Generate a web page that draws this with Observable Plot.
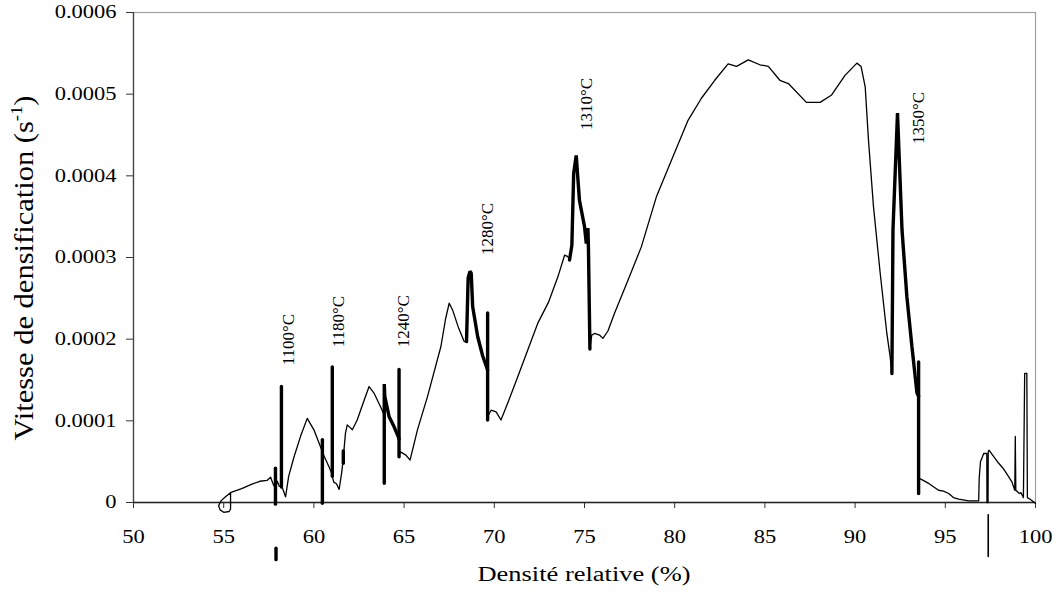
<!DOCTYPE html>
<html>
<head>
<meta charset="utf-8">
<script src="https://cdn.jsdelivr.net/npm/d3@7"></script>
<script src="https://cdn.jsdelivr.net/npm/@observablehq/plot@0.6"></script>
<style>
  body { margin: 0; background: #fff; }
  #chart svg { display: block; }
</style>
</head>
<body>
<div id="chart"></div>
<script>
// ---- Axis ticks ----
const xTicks = [50, 55, 60, 65, 70, 75, 80, 85, 90, 95, 100];
const yTicks = [0, 0.0001, 0.0002, 0.0003, 0.0004, 0.0005, 0.0006];

// ---- Curve pieces: [relative density %, rate in units of 1e-4 s^-1] ----
// thin (continuous heating) pieces
const thinA = [[55.38,0.12],[55.1,0.07],[54.85,0.02],[54.72,-0.04],[54.8,-0.09],[55.0,-0.12],[55.3,-0.11],[55.38,-0.08],[55.38,0.12],[55.6,0.14],[56.0,0.17],[56.5,0.22],[57.0,0.26],[57.4,0.27],[57.6,0.31],[57.75,0.22],[57.87,0.18]];
const thinB = [[57.87,0.18],[57.97,0.26],[58.08,0.2],[58.2,0.19]];
const thinC = [[58.22,0.2],[58.43,0.07],[58.6,0.32],[58.9,0.56],[59.26,0.81],[59.63,1.03],[60.0,0.89],[60.37,0.68],[60.47,0.62],[60.6,0.55],[60.83,0.44],[61.02,0.34]];
const thinD = [[61.02,0.32],[61.1,0.25],[61.25,0.23],[61.4,0.16],[61.55,0.38],[61.63,0.55],[61.75,0.85],[61.85,0.95],[62.0,0.92],[62.13,0.89],[62.4,1.01],[62.78,1.25],[63.06,1.42],[63.33,1.34],[63.7,1.17],[63.9,1.07]];
const thinE = [[64.72,0.58],[64.8,0.62],[65.1,0.58],[65.33,0.52],[65.74,0.89],[66.3,1.30],[67.04,1.91],[67.3,2.25],[67.5,2.44],[67.7,2.35],[68.0,2.15],[68.33,1.97],[68.46,1.97]];
const thinF = [[69.63,1.05],[69.82,1.13],[70.1,1.11],[70.37,1.01],[70.8,1.25],[71.3,1.54],[72.4,2.19],[73.0,2.45],[73.52,2.76],[73.9,3.03],[74.08,3.01],[74.17,2.97]];
const thinG = [[75.3,1.88],[75.4,2.05],[75.56,2.07],[75.83,2.05],[76.02,2.01],[76.3,2.1],[76.67,2.32],[77.41,2.72],[78.15,3.13],[78.98,3.74],[79.82,4.19],[80.74,4.68],[81.48,4.95],[82.22,5.17],[82.96,5.37],[83.43,5.34],[84.08,5.42],[84.72,5.36],[85.19,5.34],[85.83,5.17],[86.3,5.13],[87.3,4.90],[88.06,4.90],[88.7,4.99],[89.44,5.23],[90.1,5.38],[90.33,5.34],[90.56,5.09],[90.74,4.44],[91.02,3.62],[91.39,2.81],[91.76,2.07],[91.94,1.79],[92.04,1.58]];
const thinH = [[93.52,0.3],[93.7,0.28],[94.07,0.235],[94.3,0.2],[94.63,0.15],[94.9,0.14],[95.19,0.11],[95.45,0.06],[95.74,0.04],[96.3,0.02],[96.85,0.02],[96.88,0.3],[96.95,0.5],[97.13,0.60],[97.3,0.60],[97.31,0.0],[97.37,0.0],[97.38,0.62],[97.42,0.64],[97.96,0.48],[98.2,0.42],[98.5,0.32],[98.7,0.25],[98.85,0.15],[98.88,0.81],[98.91,0.15],[99.1,0.11],[99.2,0.12],[99.33,0.06],[99.40,1.58],[99.52,1.58],[99.55,0.06],[99.7,0.04],[100.0,-0.01]];
const belowThin = [[97.38,-0.15],[97.38,-0.66]];

// thick (isothermal hold) pieces
const thickK1 = [[57.87,-0.02],[57.87,0.42]];
const thickK2 = [[58.2,0.19],[58.2,1.42]];
const thickK3 = [[60.47,0.77],[60.47,-0.01]];
const thickK4 = [[61.02,0.32],[61.02,1.66]];
const thickK5 = [[61.63,0.48],[61.63,0.63]];
const thickK6 = [[63.9,0.235],[63.9,1.45],[63.93,1.30],[64.17,1.05],[64.44,0.93],[64.67,0.81],[64.72,0.78]];
const thickK7 = [[64.72,0.56],[64.72,1.63]];
const thickK8 = [[68.46,1.97],[68.55,2.75],[68.65,2.83],[68.72,2.81],[68.8,2.40],[69.08,2.03],[69.35,1.80],[69.63,1.62]];
const thickK9 = [[69.63,2.32],[69.63,1.01]];
const thickK10 = [[74.17,2.97],[74.3,3.15],[74.4,4.03],[74.54,4.25],[74.72,3.70],[75.0,3.38],[75.1,3.17],[75.19,3.36],[75.22,3.1],[75.3,1.88]];
const thickK11 = [[92.04,1.58],[92.1,3.34],[92.35,4.77],[92.6,3.34],[92.87,2.52],[93.15,1.91],[93.43,1.34],[93.52,1.30]];
const thickK12 = [[93.52,1.72],[93.52,0.11]];
const belowThick = [[57.9,-0.56],[57.9,-0.70]];

// ---- Temperature labels ----
const tempLabels = ["1100°C", "1180°C", "1240°C", "1280°C", "1310°C", "1350°C"];
const tempX = [58.6, 61.35, 64.95, 69.6, 75.1, 93.5];
const tempY = [1.68, 1.90, 1.90, 3.03, 4.56, 4.39];

const UNIT = 1e-4;
function toRows(pieces) {
  const rows = [];
  pieces.forEach((p, i) => p.forEach(([x, v]) => rows.push({seg: i, x, y: v * UNIT})));
  return rows;
}
const thinRows = toRows([thinA, thinB, thinC, thinD, thinE, thinF, thinG, thinH]);
const thinBelowRows = toRows([belowThin]);
const thickRows = toRows([thickK1, thickK2, thickK3, thickK4, thickK5, thickK6, thickK7, thickK8, thickK9, thickK10, thickK11, thickK12, belowThick]);
const labelRows = tempLabels.map((t, i) => ({text: t, x: tempX[i], y: tempY[i] * UNIT}));

const plot = Plot.plot({
  width: 1059,
  height: 595,
  marginLeft: 133,
  marginRight: 24,
  marginTop: 12,
  marginBottom: 93,
  style: {fontFamily: "'Liberation Serif', 'Times New Roman', serif", fontSize: "18px", background: "#fff", color: "#000"},
  x: {domain: [50, 100]},
  y: {domain: [0, 0.0006]},
  marks: [
    Plot.frame({stroke: "#a0a0a0", strokeWidth: 1.2}),
    Plot.axisX({ticks: xTicks, tickSize: 6, tickPadding: 22, label: null, fontSize: 18, stroke: "#333", tickFormat: d => String(d)}),
    Plot.axisY({ticks: yTicks, tickSize: 7, tickPadding: 10, label: null, fontSize: 18, stroke: "#333", tickFormat: d => d === 0 ? "0" : d.toFixed(4)}),
    Plot.ruleY([0], {stroke: "#222", strokeWidth: 1.3}),
    Plot.ruleX([50], {stroke: "#444", strokeWidth: 1.3}),
    Plot.line(thinRows, {x: "x", y: "y", z: "seg", stroke: "#000", strokeWidth: 1.3, curve: "linear"}),
    Plot.line(thinBelowRows, {x: "x", y: "y", z: "seg", stroke: "#000", strokeWidth: 1.6}),
    Plot.line(thickRows, {x: "x", y: "y", z: "seg", stroke: "#000", strokeWidth: 3.4, curve: "linear", strokeLinejoin: "miter"}),
    Plot.text(labelRows, {x: "x", y: "y", text: "text", rotate: -90, textAnchor: "start", lineAnchor: "middle", fontSize: 17, fill: "#000"})
  ]
});

document.getElementById("chart").appendChild(plot);

// widen tick labels horizontally to match the stretched look of the original
const svg = d3.select(plot);
svg.selectAll('g[aria-label="x-axis tick label"] text, g[aria-label="y-axis tick label"] text').each(function() {
  const el = d3.select(this);
  const t = el.attr("transform") || "";
  const xa = el.attr("x");
  const x = (xa && !/[a-z%]/i.test(xa)) ? parseFloat(xa) : 0;
  el.attr("transform", `${t} translate(${x},0) scale(1.25,1) translate(${-x},0)`.trim());
});

// axis titles
svg.append("text")
  .attr("x", 584).attr("y", 581)
  .attr("text-anchor", "middle")
  .attr("font-size", 20)
  .attr("textLength", 213).attr("lengthAdjust", "spacingAndGlyphs")
  .attr("fill", "#000")
  .text("Densité relative (%)");

const yt = svg.append("text")
  .attr("transform", "translate(33,268) rotate(-90)")
  .attr("text-anchor", "middle")
  .attr("font-size", 28)
  .attr("textLength", 345).attr("lengthAdjust", "spacingAndGlyphs")
  .attr("fill", "#000");
yt.append("tspan").text("Vitesse de densification (s");
yt.append("tspan").attr("font-size", 17).attr("dy", -11).text("-1");
yt.append("tspan").attr("dy", 11).text(")");
</script>
</body>
</html>
